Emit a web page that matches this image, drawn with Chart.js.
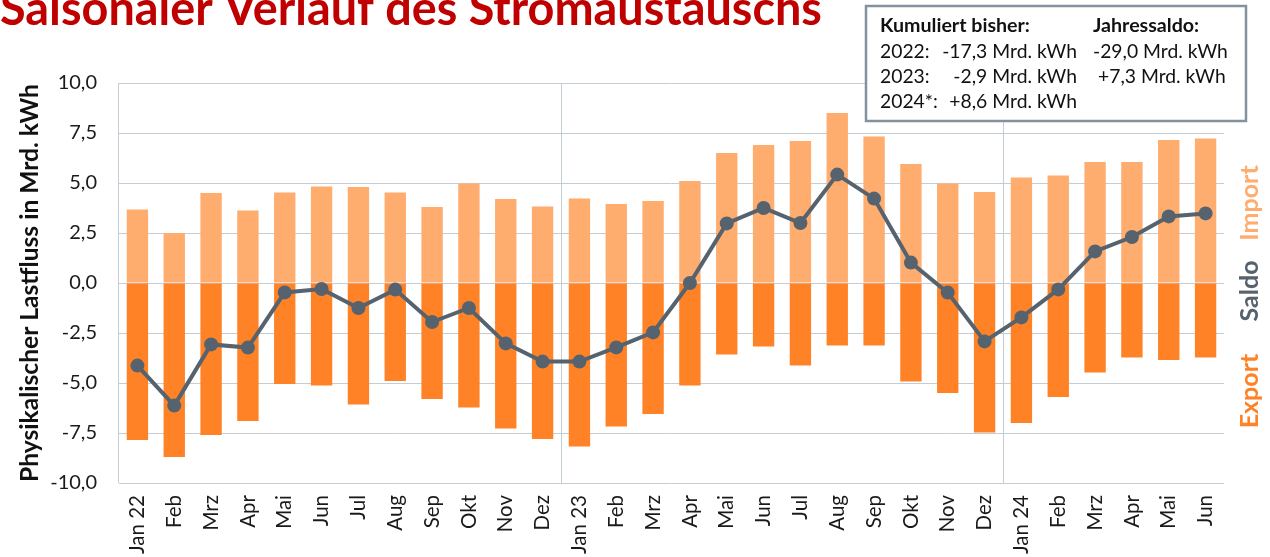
<!DOCTYPE html>
<html><head><meta charset="utf-8">
<script src="https://cdn.jsdelivr.net/npm/chart.js@4.4.1/dist/chart.umd.min.js"></script>
<style>html,body{margin:0;padding:0;background:#fff;overflow:hidden}#wrap{position:relative;width:1270px;height:557px}</style>
</head><body><div id="wrap"><canvas id="c" width="1270" height="557"></canvas></div>
<script>
const categories = ['Jan 22','Feb','Mrz','Apr','Mai','Jun','Jul','Aug','Sep','Okt','Nov','Dez',
  'Jan 23','Feb','Mrz','Apr','Mai','Jun','Jul','Aug','Sep','Okt','Nov','Dez',
  'Jan 24','Feb','Mrz','Apr','Mai','Jun'];
const importValues = [3.68,2.5,4.5,3.63,4.53,4.83,4.8,4.53,3.8,4.97,4.2,3.83,
  4.22,3.95,4.1,5.1,6.5,6.9,7.1,8.5,7.33,5.95,4.97,4.55,
  5.28,5.37,6.05,6.05,7.15,7.22];
const exportValues = [-7.85,-8.7,-7.6,-6.9,-5.05,-5.13,-6.08,-4.9,-5.8,-6.23,-7.27,-7.8,
  -8.18,-7.18,-6.55,-5.13,-3.57,-3.18,-4.13,-3.13,-3.13,-4.93,-5.5,-7.48,
  -7.0,-5.7,-4.48,-3.73,-3.85,-3.73];
const saldoValues = [-4.13,-6.13,-3.07,-3.23,-0.47,-0.3,-1.25,-0.33,-1.95,-1.25,-3.02,-3.93,
  -3.93,-3.22,-2.47,0.0,2.98,3.75,3.0,5.42,4.22,1.02,-0.48,-2.92,
  -1.72,-0.32,1.58,2.3,3.33,3.48];
const yMin = -10, yMax = 10, yStep = 2.5;
const yearStartIndices = [0, 12, 24];

const titleText = 'Saisonaler Verlauf des Stromaustauschs';
const yTitleText = 'Physikalischer Lastfluss in Mrd. kWh';
const boxHeader = ['Kumuliert bisher:', 'Jahressaldo:'];
const boxYears = ['2022:', '2023:', '2024*:'];
const boxCumulated = ['-17,3 Mrd. kWh', '-2,9 Mrd. kWh', '+8,6 Mrd. kWh'];
const boxAnnual = ['-29,0 Mrd. kWh', '+7,3 Mrd. kWh', ''];
const sideLabels = ['Import', 'Saldo', 'Export'];

const C_IMPORT = '#FFAC6F', C_EXPORT = '#FF8226', C_SALDO = '#56636E', C_GRID = '#C4CCD4';
const FAMILY = 'Lato, "Open Sans", sans-serif';

const mctx = document.createElement('canvas').getContext('2d');
function fit(text, weight, target) {
  mctx.font = weight + ' 40px ' + FAMILY;
  return 40 * target / mctx.measureText(text).width;
}
const titleSize = fit(titleText, 'bold', 822);
const yTitleSize = fit(yTitleText, 'bold', 398);
const boxSize = fit('-29,0 Mrd. kWh', 'normal', 135);
const boxBoldSize = fit('Kumuliert bisher:', 'bold', 150);

const extras = {
  id: 'extras',
  afterDraw(chart) {
    const ctx = chart.ctx;
    ctx.save();
    ctx.fillStyle = '#C00000';
    ctx.font = 'bold ' + titleSize + 'px ' + FAMILY;
    ctx.textAlign = 'left'; ctx.textBaseline = 'alphabetic';
    ctx.fillText(titleText, 0, 25);
    const ys = [203, 291, 391];
    const cols = [C_IMPORT, C_SALDO, C_EXPORT];
    ctx.font = 'bold 25px ' + FAMILY;
    ctx.textAlign = 'center'; ctx.textBaseline = 'middle';
    sideLabels.forEach((t, i) => {
      ctx.save();
      ctx.translate(1250, ys[i]);
      ctx.rotate(-Math.PI / 2);
      ctx.fillStyle = cols[i];
      ctx.fillText(t, 0, 0);
      ctx.restore();
    });
    ctx.fillStyle = '#fff';
    ctx.fillRect(866, 6, 380, 115);
    ctx.strokeStyle = '#84929F';
    ctx.lineWidth = 2.5;
    ctx.strokeRect(866, 6, 380, 115);
    ctx.fillStyle = '#111';
    ctx.textBaseline = 'alphabetic';
    ctx.font = 'bold ' + boxBoldSize + 'px ' + FAMILY;
    ctx.textAlign = 'left';
    ctx.fillText(boxHeader[0], 880, 32);
    ctx.fillText(boxHeader[1], 1093, 32);
    ctx.font = boxSize + 'px ' + FAMILY;
    const rowY = [58, 83, 108];
    const col2X = [1093, 1098, 1098];
    boxYears.forEach((t, i) => {
      ctx.textAlign = 'left';
      ctx.fillText(t, 880, rowY[i]);
      ctx.textAlign = 'right';
      ctx.fillText(boxCumulated[i], 1077, rowY[i]);
      ctx.textAlign = 'left';
      if (boxAnnual[i]) ctx.fillText(boxAnnual[i], col2X[i], rowY[i]);
    });
    ctx.restore();
  }
};

new Chart(document.getElementById('c'), {
  type: 'bar',
  data: {
    labels: categories,
    datasets: [
      { type: 'line', label: 'Saldo', data: saldoValues, borderColor: C_SALDO, backgroundColor: C_SALDO,
        borderWidth: 4, pointRadius: 7, pointBackgroundColor: C_SALDO, pointBorderWidth: 0, tension: 0 },
      { label: 'Import', data: importValues, backgroundColor: C_IMPORT, categoryPercentage: 1, barPercentage: 0.58 },
      { label: 'Export', data: exportValues, backgroundColor: C_EXPORT, categoryPercentage: 1, barPercentage: 0.58 }
    ]
  },
  options: {
    responsive: false, animation: false, devicePixelRatio: 1,
    layout: { padding: { top: 83, right: 46, left: 0, bottom: 0 } },
    plugins: { legend: { display: false }, tooltip: { enabled: false }, title: { display: false } },
    scales: {
      x: {
        stacked: true, offset: true,
        grid: { offset: true, drawTicks: false, lineWidth: 1,
          color: c => (yearStartIndices.includes(c.index) ? C_GRID : 'rgba(0,0,0,0)') },
        border: { display: false },
        ticks: { autoSkip: false, maxRotation: 90, minRotation: 90, padding: 12, color: '#1a1a1a',
          font: { family: FAMILY, size: 20.5 } },
        afterFit: s => { s.height = 74; }
      },
      y: {
        min: yMin, max: yMax,
        grid: { drawTicks: false, color: C_GRID, lineWidth: 1 },
        border: { display: false },
        ticks: { stepSize: yStep, padding: 22, color: '#1a1a1a', font: { family: FAMILY, size: 20 },
          callback: v => v.toFixed(1).replace('.', ',') },
        title: { display: true, text: yTitleText, color: '#111', padding: { top: 15, bottom: 0 },
          font: { family: FAMILY, size: yTitleSize, weight: 'bold' } },
        afterFit: s => { s.width = 119; }
      }
    }
  },
  plugins: [extras]
});
</script></body></html>
